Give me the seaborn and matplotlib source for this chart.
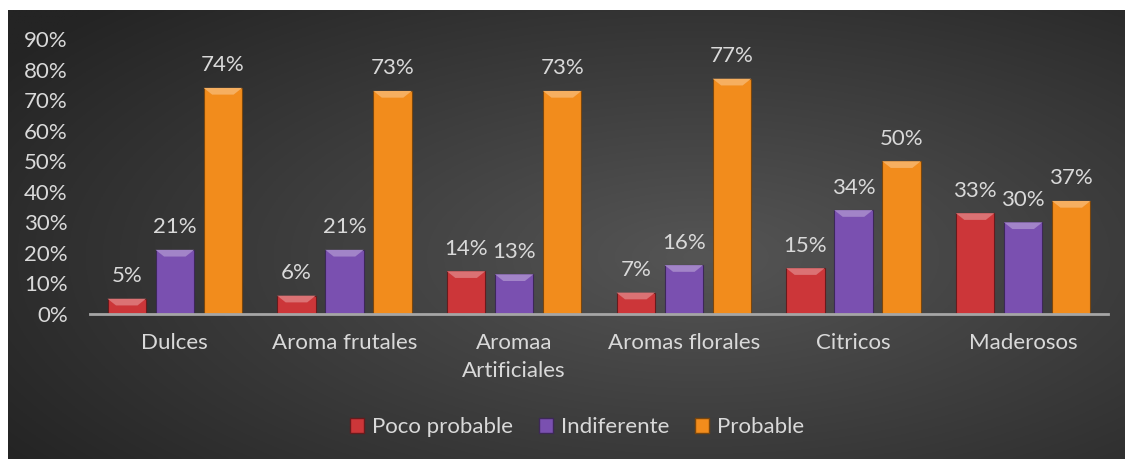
import numpy as np
import pandas as pd
import matplotlib
matplotlib.use("Agg")
import matplotlib.pyplot as plt
import seaborn as sns

categories = ["Dulces", "Aroma frutales", "Aromaa\nArtificiales", "Aromas florales", "Citricos", "Maderosos"]
series_names = ["Poco probable", "Indiferente", "Probable"]
poco_probable = [5, 6, 14, 7, 15, 33]
indiferente = [21, 21, 13, 16, 34, 30]
probable = [74, 73, 73, 77, 50, 37]
y_ticks = [0, 10, 20, 30, 40, 50, 60, 70, 80, 90]

colors = ["#cc3639", "#7a50b0", "#f28c1c"]
text_color = "#d9d9d9"

rows = []
for name, vals in zip(series_names, [poco_probable, indiferente, probable]):
    for c, v in zip(categories, vals):
        rows.append({"cat": c, "serie": name, "val": v})
df = pd.DataFrame(rows)

sns.set_theme(style="white")
plt.rcParams["font.family"] = ["Lato", "DejaVu Sans"]
FS = 16

W, H = 1126, 459
fig = plt.figure(figsize=(W / 100, H / 100), dpi=100)
fig.patch.set_facecolor("white")

# background panel with radial gradient
bg = fig.add_axes([8 / W, 0, (1125 - 8) / W, (459 - 10) / H])
yy, xx = np.mgrid[0:1:300j, 0:1:600j]
r = np.sqrt(((xx - 0.62) / 0.75) ** 2 + ((yy - 0.45) / 0.8) ** 2)
r = np.clip(r, 0, 1)
c0 = np.array([0x55, 0x55, 0x55]) / 255
c1 = np.array([0x24, 0x24, 0x24]) / 255
img = c0[None, None, :] * (1 - r[..., None]) + c1[None, None, :] * r[..., None]
bg.imshow(img, aspect="auto", extent=[0, 1, 0, 1], origin="lower")
bg.set_axis_off()

ax = fig.add_axes([90 / W, 1 - 314 / H, (1108 - 90) / W, (314 - 39) / H])
ax.patch.set_alpha(0)
sns.barplot(data=df, x="cat", y="val", hue="serie", hue_order=series_names,
            order=categories, palette=colors, width=0.85, gap=0.2,
            ax=ax, legend=True, edgecolor="none", linewidth=0, saturation=1)

ax.set_xlim(-0.5, len(categories) - 0.5)
ax.set_ylim(0, 90)
ax.set_yticks(y_ticks)
ax.set_yticklabels([f"{t}%" for t in y_ticks])
ax.set_xlabel("")
ax.set_ylabel("")
for s in ["top", "right", "left"]:
    ax.spines[s].set_visible(False)
ax.spines["bottom"].set_color("#a6a6a6")
ax.spines["bottom"].set_linewidth(2)
ax.tick_params(axis="y", length=0, pad=16, labelsize=FS, labelcolor=text_color)
ax.tick_params(axis="x", length=0, pad=14, labelsize=FS, labelcolor=text_color)
for lbl in ax.get_xticklabels():
    lbl.set_linespacing(1.45)

# bevel-ish highlights and labels
for cont in ax.containers:
    for bar in cont:
        x0, y0 = bar.get_x(), bar.get_y()
        w, h = bar.get_width(), bar.get_height()
        fc = np.array(matplotlib.colors.to_rgb(bar.get_facecolor()))
        bar.set_edgecolor(tuple(fc * 0.5))
        bar.set_linewidth(0.8)
        light = tuple(np.clip(fc + (1 - fc) * 0.3, 0, 1))
        dh = min(2.2, h * 0.5)
        dw = w * 0.22
        poly = plt.Polygon([[x0, y0 + h], [x0 + w, y0 + h], [x0 + w - dw, y0 + h - dh], [x0 + dw, y0 + h - dh]],
                           closed=True, facecolor=light, edgecolor="none", zorder=bar.get_zorder() + 0.1)
        ax.add_patch(poly)
    ax.bar_label(cont, labels=[f"{int(round(b.get_height()))}%" for b in cont],
                 padding=9, color=text_color, fontsize=FS)

leg = ax.get_legend()
if leg is not None:
    leg.remove()
handles = [matplotlib.patches.Patch(facecolor=c, edgecolor=tuple(np.array(matplotlib.colors.to_rgb(c)) * 0.5)) for c in colors]
fig.legend(handles, series_names, loc="center", bbox_to_anchor=(577 / W, 1 - 427 / H), ncol=3,
           frameon=False, fontsize=FS, labelcolor=text_color, handlelength=0.65, handleheight=0.65,
           handletextpad=0.35, columnspacing=1.15)

fig.savefig("out.png", dpi=100)
